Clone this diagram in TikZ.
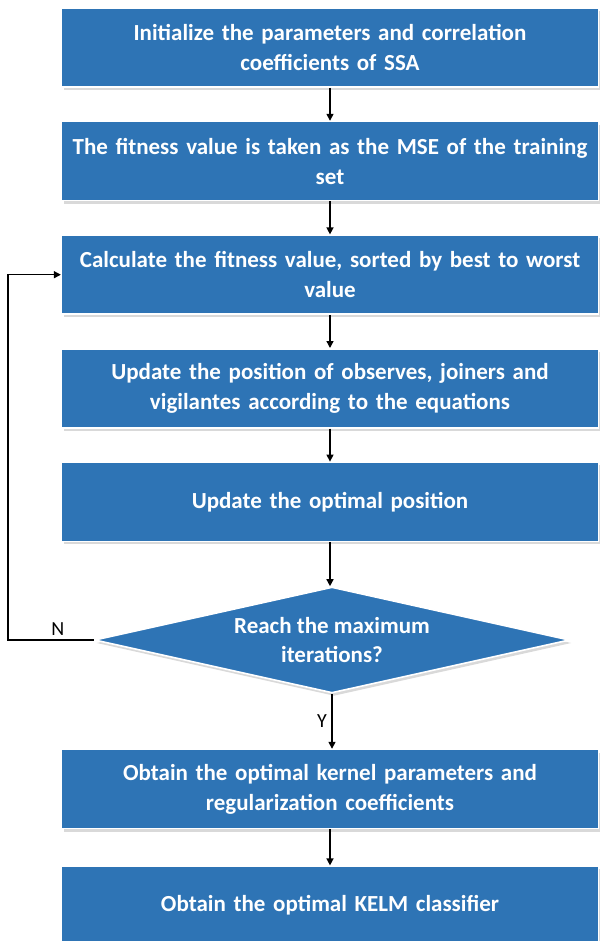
\documentclass[tikz,border=0pt]{standalone}
\usepackage{fontspec}
\setmainfont{Carlito}
\usepackage{tikz}
\usetikzlibrary{arrows.meta,positioning,calc,shapes.geometric,shadows}
\definecolor{SsaBlue}{HTML}{2E74B5}
\definecolor{SsaEdge}{HTML}{255F96}

\begin{document}
\begin{tikzpicture}[
  x=1pt,y=1pt,
  stepbox/.style={draw=white,line width=1.6pt,fill=SsaBlue,
    drop shadow={opacity=0.3,shadow xshift=2pt,shadow yshift=-3pt},
    minimum width=536pt,minimum height=79pt,text width=530pt,align=center,
    text=white,font=\fontsize{23}{30}\selectfont\bfseries},
  decide/.style={diamond,draw=white,line width=1.6pt,fill=SsaBlue,
    drop shadow={opacity=0.3,shadow xshift=2pt,shadow yshift=-3pt},
    aspect=4.5,inner sep=0pt,minimum width=475pt,minimum height=106pt,
    align=center,text=white,font=\fontsize{23}{29}\selectfont\bfseries},
  arr/.style={-{Triangle[length=7pt,width=7pt]},line width=1.4pt,draw=black},
  lbl/.style={font=\fontsize{20}{22}\selectfont}
]
\useasboundingbox (0,0) rectangle (603,-941);
\node[stepbox] (init) at (330,-47.5) {Initialize the parameters and correlation\\coefficients of SSA};
\node[stepbox,below=33pt of init] (fit) {The fitness value is taken as the MSE of the training\\set};
\node[stepbox,below=33pt of fit] (calc) {Calculate the fitness value, sorted by best to worst\\value};
\node[stepbox,below=33pt of calc] (upd) {Update the position of observes, joiners and\\vigilantes according to the equations};
\node[stepbox,below=33pt of upd] (best) {Update the optimal position};
\node[decide,below=44pt of best,xshift=2pt] (iter) {Reach the maximum\\iterations?};
\node[stepbox,below=55pt of iter.south,anchor=north,xshift=-2pt] (kern) {Obtain the optimal kernel parameters and\\regularization coefficients};
\node[stepbox,below=36pt of kern] (kelm) {Obtain the optimal KELM classifier};
\draw[arr] (init) -- (fit);
\draw[arr] (fit) -- (calc);
\draw[arr] (calc) -- (upd);
\draw[arr] (upd) -- (best);
\draw[arr] (best.south) -- (best.south |- iter.north);
\draw[arr] (iter.south) -- (iter.south |- kern.north) node[lbl,midway,left=1pt] {Y};
\draw[arr] (kern) -- (kelm);
\coordinate (back) at (8,0);
\draw[arr] (iter.west) -- (back |- iter.west) -- (back |- calc.west) -- (calc.west);
\node[lbl,above=1pt] (nlabel) at ($(iter.west)!0.42!(back |- iter.west)$) {N};
\end{tikzpicture}
\end{document}
